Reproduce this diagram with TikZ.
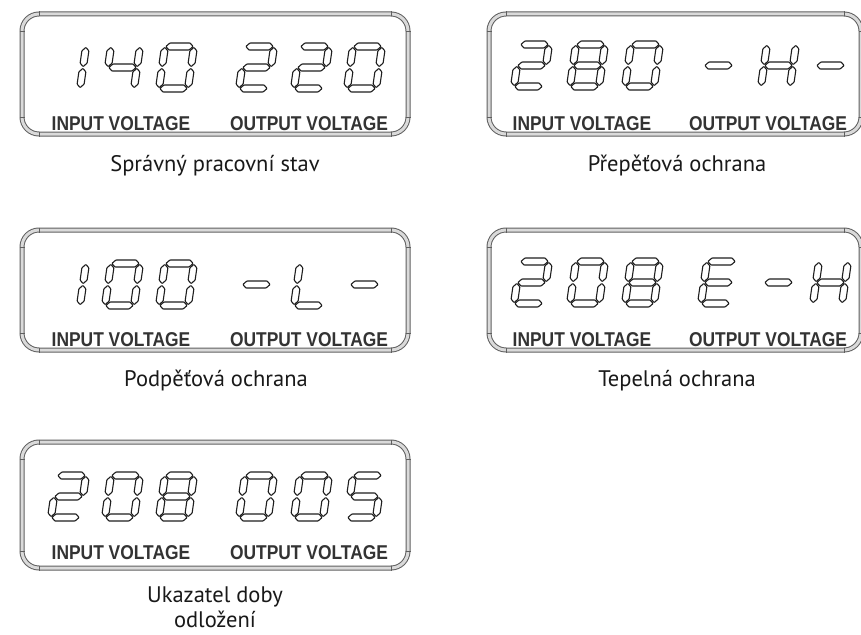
\documentclass[tikz,border=0pt]{standalone}
\usepackage{fontspec}
\setmainfont{PT Sans}
\newfontfamily\lcdfont{Liberation Sans}
\definecolor{tubeline}{RGB}{95,95,95}
\definecolor{tubefill}{RGB}{218,218,218}
\definecolor{segcol}{RGB}{30,30,30}
\tikzset{
 segline/.style={draw=segcol, line width=1.1pt, line join=round, rounded corners=0.6pt},
 tubeout/.style={draw=tubeline, line width=5pt, rounded corners=17pt},
 tubein/.style={draw=tubefill, line width=3pt, rounded corners=17pt},
 tubetick/.style={draw=tubeline, line width=0.8pt},
 lcdlabel/.style={font=\lcdfont\bfseries\fontsize{20}{24}\selectfont, text=black!80, xscale=0.87, inner sep=0pt},
 caption/.style={font=\fontsize{22.5}{25}\selectfont, text=black!90, align=center, inner sep=0pt},
}
\newcommand\hsegm[1]{\draw[segline] (4.4,#1) -- (7.9,#1-3.5) -- (28.1,#1-3.5) -- (31.6,#1) -- (28.1,#1+3.5) -- (7.9,#1+3.5) -- cycle;}
\newcommand\vsegm[3]{\draw[segline] (#1,#2) -- (#1+3.5,#2+3.5) -- (#1+3.5,#3-3.5) -- (#1,#3) -- (#1-3.5,#3-3.5) -- (#1-3.5,#2+3.5) -- cycle;}
\newcommand\lcdsega{\hsegm{3.5}}
\newcommand\lcdsegg{\hsegm{24.5}}
\newcommand\lcdsegd{\hsegm{45.5}}
\newcommand\lcdsegf{\vsegm{3.5}{4.4}{23.6}}
\newcommand\lcdsegb{\vsegm{32.5}{4.4}{23.6}}
\newcommand\lcdsege{\vsegm{3.5}{25.4}{44.6}}
\newcommand\lcdsegc{\vsegm{32.5}{25.4}{44.6}}
\newcommand\lcdchar[3]{\begin{scope}[shift={(#1+7,#2)}, xslant=0.143]\foreach \s in {#3}{\csname lcdseg\s\endcsname}\end{scope}}
\newcommand\lcdframe[4]{%
 \draw[tubeout] (#1,#2) rectangle (#3,#4);
 \draw[tubein] (#1,#2) rectangle (#3,#4);
 \draw[tubetick] (#1+17,#2-2.5) -- (#1+17,#2+2.5);
 \draw[tubetick] (#3-17,#2-2.5) -- (#3-17,#2+2.5);
 \draw[tubetick] (#1+17,#4-2.5) -- (#1+17,#4+2.5);
 \draw[tubetick] (#3-17,#4-2.5) -- (#3-17,#4+2.5);
 \draw[tubetick] (#1-2.5,#2+17) -- (#1+2.5,#2+17);
 \draw[tubetick] (#1-2.5,#4-17) -- (#1+2.5,#4-17);
 \draw[tubetick] (#3-2.5,#2+17) -- (#3+2.5,#2+17);
 \draw[tubetick] (#3-2.5,#4-17) -- (#3+2.5,#4-17);
}
\begin{document}
\begin{tikzpicture}[x=1pt,y=-1pt]
\useasboundingbox (0,0) rectangle (861,634);
\clip (0,0) rectangle (861,634);
\fill[white] (0,0) rectangle (861,634);
% Panel 1
\lcdframe{22}{14}{408}{134}
\lcdchar{47}{43}{b,c}
\lcdchar{101}{43}{b,c,f,g}
\lcdchar{155}{43}{a,b,c,d,e,f}
\lcdchar{235}{43}{a,b,g,e,d}
\lcdchar{290}{43}{a,b,g,e,d}
\lcdchar{343}{43}{a,b,c,d,e,f}
\node[lcdlabel] (in1) at (121,124) {INPUT VOLTAGE};
\node[lcdlabel] (out1) at (309,124) {OUTPUT VOLTAGE};
\node[caption] (cap1) at (215,166) {Správný pracovní stav};
% Panel 2
\lcdframe{489}{14}{861}{134}
\lcdchar{510}{41}{a,b,g,e,d}
\lcdchar{566}{41}{a,b,c,d,e,f,g}
\lcdchar{621}{41}{a,b,c,d,e,f}
\lcdchar{697}{41}{g}
\lcdchar{757}{41}{b,c,e,f,g}
\lcdchar{809}{41}{g}
\node[lcdlabel] (in2) at (582,124) {INPUT VOLTAGE};
\node[lcdlabel] (out2) at (768,124) {OUTPUT VOLTAGE};
\node[caption] (cap2) at (677,166) {Přepěťová ochrana};
% Panel 3
\lcdframe{22}{230}{408}{350}
\lcdchar{47}{260}{b,c}
\lcdchar{101}{260}{a,b,c,d,e,f}
\lcdchar{155}{260}{a,b,c,d,e,f}
\lcdchar{235}{260}{g}
\lcdchar{290}{260}{d,e,f}
\lcdchar{343}{260}{g}
\node[lcdlabel] (in3) at (121,340) {INPUT VOLTAGE};
\node[lcdlabel] (out3) at (309,340) {OUTPUT VOLTAGE};
\node[caption] (cap3) at (216,381) {Podpěťová ochrana};
% Panel 4
\lcdframe{489}{230}{861}{350}
\lcdchar{510}{258}{a,b,g,e,d}
\lcdchar{566}{258}{a,b,c,d,e,f}
\lcdchar{621}{258}{a,b,c,d,e,f,g}
\lcdchar{697}{258}{a,d,e,f,g}
\lcdchar{757}{258}{g}
\lcdchar{809}{258}{b,c,e,f,g}
\node[lcdlabel] (in4) at (582,340) {INPUT VOLTAGE};
\node[lcdlabel] (out4) at (768,340) {OUTPUT VOLTAGE};
\node[caption] (cap4) at (677,381) {Tepelná ochrana};
% Panel 5
\lcdframe{22}{442}{408}{568}
\lcdchar{47}{472}{a,b,g,e,d}
\lcdchar{101}{472}{a,b,c,d,e,f}
\lcdchar{155}{472}{a,b,c,d,e,f,g}
\lcdchar{235}{472}{a,b,c,d,e,f}
\lcdchar{290}{472}{a,b,c,d,e,f}
\lcdchar{343}{472}{a,c,d,f,g}
\node[lcdlabel] (in5) at (121,553) {INPUT VOLTAGE};
\node[lcdlabel] (out5) at (309,553) {OUTPUT VOLTAGE};
\node[caption] (cap5) at (215,607) {Ukazatel doby\\odložení};
\end{tikzpicture}
\end{document}
